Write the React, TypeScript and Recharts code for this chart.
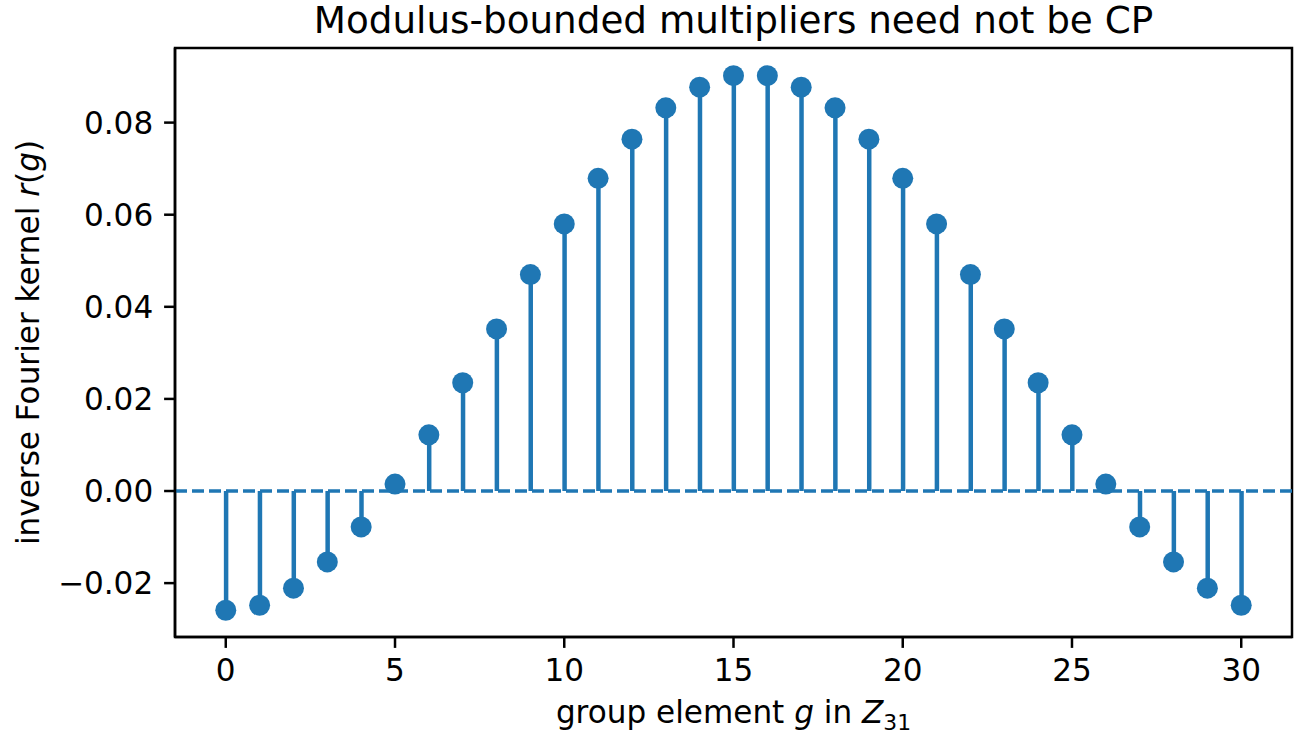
import {
  Bar,
  ComposedChart,
  ReferenceArea,
  ReferenceLine,
  Scatter,
  XAxis,
  YAxis,
} from "recharts";

const groupElements = [
  0, 1, 2, 3, 4, 5, 6, 7, 8, 9, 10, 11, 12, 13, 14, 15,
  16, 17, 18, 19, 20, 21, 22, 23, 24, 25, 26, 27, 28, 29, 30,
];
const kernelValues = [
  -0.0259, -0.0248, -0.0211, -0.0154, -0.0078, 0.0015, 0.0122, 0.0235,
  0.0352, 0.047, 0.058, 0.0679, 0.0764, 0.0832, 0.0877, 0.0902,
  0.0902, 0.0877, 0.0832, 0.0764, 0.0679, 0.058, 0.047, 0.0352,
  0.0235, 0.0122, 0.0015, -0.0078, -0.0154, -0.0211, -0.0248,
];
const xTicks = [0, 5, 10, 15, 20, 25, 30];
const yTicks = [-0.02, 0, 0.02, 0.04, 0.06, 0.08];

const data = groupElements.map((g, i) => ({ g, r: kernelValues[i] }));

const blue = "#1f77b4";
const font = "DejaVu Sans";
const tick = { fontFamily: font, fontSize: 31.1, fill: "#000" };
const xDomain: [number, number] = [-1.5, 31.5];
const yDomain: [number, number] = [-0.0317, 0.0962];

const fmtY = (v: number) => (v < 0 ? "\u2212" + Math.abs(v).toFixed(2) : v.toFixed(2));

const Dot = (props: any) => <circle cx={props.cx} cy={props.cy} r={10.5} fill={blue} />;

export default function App() {
  return (
    <div style={{ position: "absolute", left: 0, top: 0, width: 1303, height: 737, background: "#fff" }}>
      <ComposedChart width={1303} height={737} data={data} margin={{ top: 48, right: 11, bottom: 0, left: 0 }}>
        <XAxis
          type="number"
          dataKey="g"
          domain={xDomain}
          ticks={xTicks}
          allowDataOverflow
          height={100}
          tick={tick}
          tickSize={10.9}
          tickMargin={10.9}
          stroke="#000"
          strokeWidth={2.5}
        />
        <YAxis
          type="number"
          domain={yDomain}
          ticks={yTicks}
          allowDataOverflow
          width={175}
          tick={tick}
          tickFormatter={fmtY}
          tickSize={10.9}
          tickMargin={10.9}
          stroke="#000"
          strokeWidth={2.5}
        />
        <ReferenceLine y={0} stroke={blue} strokeWidth={3.5} strokeDasharray="12 5" />
        <Bar dataKey="r" barSize={4.5} fill={blue} isAnimationActive={false} />
        <Scatter dataKey="r" shape={Dot} isAnimationActive={false} />
        <ReferenceArea
          x1={xDomain[0]}
          x2={xDomain[1]}
          y1={yDomain[0]}
          y2={yDomain[1]}
          fill="none"
          fillOpacity={0}
          stroke="#000"
          strokeWidth={2.5}
        />
      </ComposedChart>
      <svg width={1303} height={737} style={{ position: "absolute", left: 0, top: 0, pointerEvents: "none" }}>
        <text x={733.5} y={32.5} textAnchor="middle" fontFamily={font} fontSize={37.3} fill="#000">
          Modulus-bounded multipliers need not be CP
        </text>
        <text x={733.5} y={723} textAnchor="middle" fontFamily={font} fontSize={31.1} fill="#000">
          group element <tspan fontStyle="italic">g</tspan> in <tspan fontStyle="italic">Z</tspan>
          <tspan fontSize={21.8} dy={6.5}>31</tspan>
        </text>
        <text
          x={39}
          y={342.5}
          transform="rotate(-90 39 342.5)"
          textAnchor="middle"
          fontFamily={font}
          fontSize={31.1}
          fill="#000"
        >
          inverse Fourier kernel <tspan fontStyle="italic">r</tspan>(<tspan fontStyle="italic">g</tspan>)
        </text>
      </svg>
    </div>
  );
}
